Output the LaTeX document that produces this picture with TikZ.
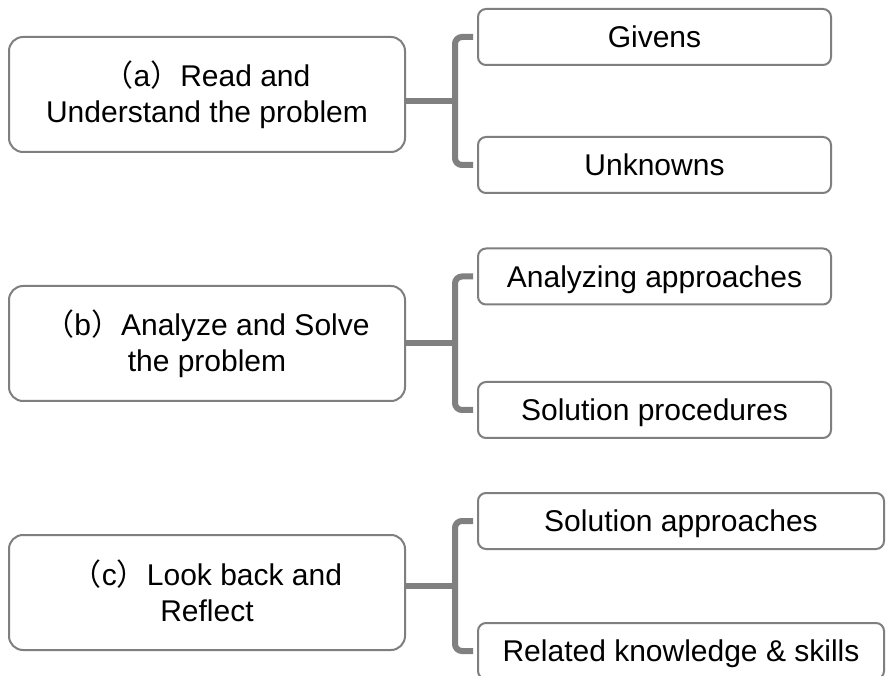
\documentclass[tikz,border=0pt]{standalone}
\usepackage{fontspec}
\setmainfont{Liberation Sans}
\newfontfamily\cjk{Noto Sans CJK SC}
\definecolor{bordergray}{HTML}{7F7F7F}
\definecolor{brkgray}{HTML}{808080}
\newcommand{\fs}{\fontsize{30}{36}\selectfont}
\newcommand{\lp}{{\cjk （}}
\newcommand{\rp}{{\cjk ）}}
\begin{document}
\begin{tikzpicture}[x=1pt,y=-1pt,
  box/.style={draw=bordergray, line width=2pt, rounded corners=14pt,
    minimum width=396pt, minimum height=115pt, inner sep=0pt},
  rbox/.style={draw=bordergray, line width=2pt, rounded corners=8pt,
    minimum height=56pt, inner sep=0pt, font=\fs, text height=21.5pt, text depth=0pt},
  txt/.style={font=\fs, anchor=base, inner sep=0pt},
  brk/.style={draw=brkgray, line width=6pt, rounded corners=7pt}]
\useasboundingbox[fill=white] (0,0) rectangle (887,676);

% left boxes
\node[box] (a) at (207,94.5) {};
\node[box] (b) at (207,343.5) {};
\node[box] (c) at (207,592.5) {};

\node[txt] (a1) at (207,87) {\lp a\rp Read and};
\node[txt] (a2) at (207,123) {Understand the problem};
\node[txt] (b1) at (207,336) {\lp b\rp Analyze and Solve};
\node[txt] (b2) at (207,372) {the problem};
\node[txt] (c1) at (207,585) {\lp c\rp Look back and};
\node[txt] (c2) at (207,621) {Reflect};

% right boxes
\node[rbox, minimum width=353pt] (g) at (654.5,37) {Givens};
\node[rbox, minimum width=353pt] (u) at (654.5,165) {Unknowns};
\node[rbox, minimum width=353pt] (aa) at (654.5,276.5) {Analyzing approaches};
\node[rbox, minimum width=353pt] (sp) at (654.5,410) {Solution procedures};
\node[rbox, minimum width=406pt] (sa) at (681,521) {Solution approaches};
\node[rbox, minimum width=406pt] (rk) at (681,651) {Related knowledge \& skills};

% brackets
\coordinate (ja) at (455,101);
\coordinate (jb) at (455,343);
\coordinate (jc) at (455,586);

\draw[brk] ([xshift=-4pt]g.west) -| (ja) |- ([xshift=-4pt]u.west);
\draw[brk, rounded corners=0pt] (a.east |- ja) -- (ja);
\draw[brk] ([xshift=-4pt]aa.west) -| (jb) |- ([xshift=-4pt]sp.west);
\draw[brk, rounded corners=0pt] (b.east |- jb) -- (jb);
\draw[brk] ([xshift=-4pt]sa.west) -| (jc) |- ([xshift=-4pt]rk.west);
\draw[brk, rounded corners=0pt] (c.east |- jc) -- (jc);
\end{tikzpicture}
\end{document}
